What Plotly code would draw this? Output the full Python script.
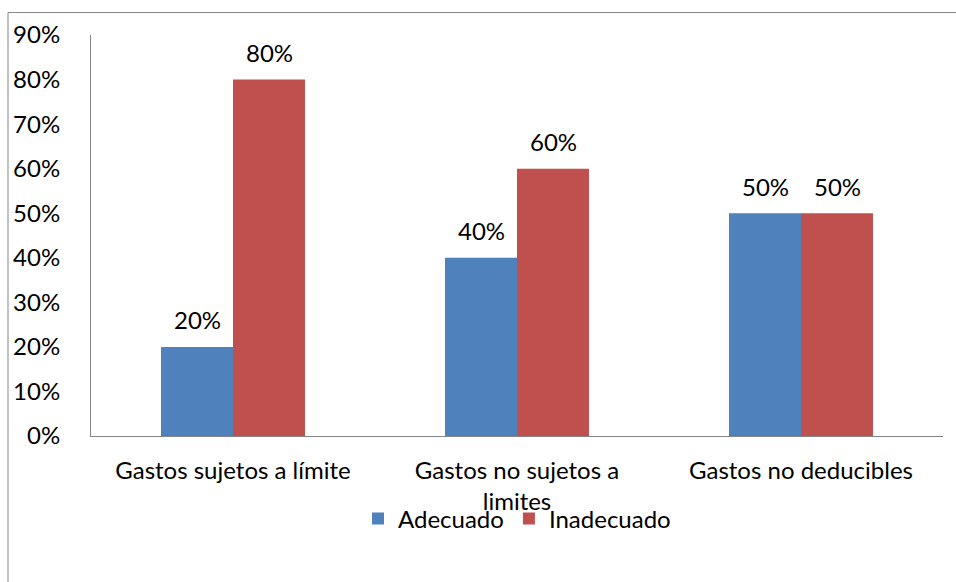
import plotly.graph_objects as go

# Chart data
categories = ["Gastos sujetos a límite", "Gastos no sujetos a<br>limites", "Gastos no deducibles"]
series_names = ["Adecuado", "Inadecuado"]
adecuado = [0.20, 0.40, 0.50]
inadecuado = [0.80, 0.60, 0.50]
y_ticks = [0.0, 0.1, 0.2, 0.3, 0.4, 0.5, 0.6, 0.7, 0.8, 0.9]

colors = ["#4F81BD", "#C0504D"]
FONT = "Lato"
FS = 24
AXIS_GRAY = "#868686"

W, H = 956, 582
ML, MR, MT, MB = 91, 13, 35, 146
BARGAP = 0.493

fig = go.Figure()
for name, vals, col in zip(series_names, [adecuado, inadecuado], colors):
    fig.add_trace(go.Bar(
        name=name, x=categories, y=vals,
        marker=dict(color=col, line=dict(width=0)),
        hoverinfo="skip",
    ))

# value labels above each bar
half = (1 - BARGAP) / 4
for k, vals in enumerate([adecuado, inadecuado]):
    for i, v in enumerate(vals):
        fig.add_annotation(
            x=i + (-half if k == 0 else half), y=v, xref="x", yref="y",
            text=f"{round(v * 100)}%", showarrow=False,
            yanchor="middle", yshift=27,
            font=dict(family=FONT, size=FS, color="#000"),
        )

# outer chart frame
pw, ph = W - ML - MR, H - MT - MB
fig.add_shape(
    type="rect", xref="paper", yref="paper",
    x0=(8 - ML) / pw, x1=(W + 20 - ML) / pw,
    y0=-(MB + 20) / ph, y1=1 + (MT - 12.5) / ph,
    line=dict(color=AXIS_GRAY, width=1), fillcolor="rgba(0,0,0,0)", layer="below",
)

fig.update_layout(
    width=W, height=H,
    margin=dict(l=ML, r=MR, t=MT, b=MB, autoexpand=False),
    paper_bgcolor="white", plot_bgcolor="white",
    barmode="group", bargap=BARGAP, bargroupgap=0,
    font=dict(family=FONT, size=FS, color="#000"),
    showlegend=True,
    legend=dict(
        orientation="h", x=0.5, xanchor="center", y=(MT + ph - 519) / ph,
        yanchor="middle", font=dict(family=FONT, size=FS, color="#000"),
        bgcolor="rgba(0,0,0,0)", itemclick=False, itemdoubleclick=False,
    ),
    xaxis=dict(
        type="category", showgrid=False, zeroline=False,
        showline=True, linecolor=AXIS_GRAY, linewidth=1,
        ticks="outside", ticklen=13, tickcolor="rgba(0,0,0,0)",
        tickfont=dict(family=FONT, size=FS, color="#000"),
        fixedrange=True,
    ),
    yaxis=dict(
        range=[0, 0.9], tickvals=y_ticks, tickformat=".0%",
        showgrid=False, zeroline=False,
        showline=True, linecolor=AXIS_GRAY, linewidth=1,
        ticks="outside", ticklen=25, tickcolor="rgba(0,0,0,0)",
        tickfont=dict(family=FONT, size=FS, color="#000"),
        fixedrange=True,
    ),
)

fig.write_html("out.html", config={"displayModeBar": False})
